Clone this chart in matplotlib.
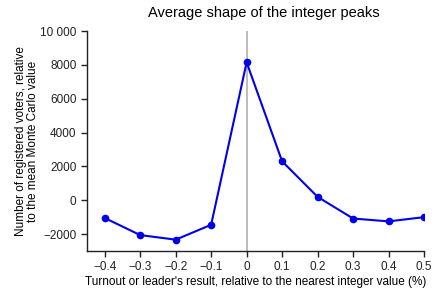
import matplotlib
matplotlib.use("Agg")
import matplotlib.pyplot as plt
from matplotlib.ticker import FuncFormatter

plt.rcParams['font.family'] = ['Liberation Sans', 'DejaVu Sans']

x_vals = [-0.4, -0.3, -0.2, -0.1, 0.0, 0.1, 0.2, 0.3, 0.4, 0.5]
y_vals = [-1050, -2060, -2330, -1450, 8150, 2300, 200, -1080, -1250, -1000]
x_ticks = [-0.4, -0.3, -0.2, -0.1, 0, 0.1, 0.2, 0.3, 0.4, 0.5]
y_ticks = [-2000, 0, 2000, 4000, 6000, 8000, 10000]

fig = plt.figure(figsize=(4.36, 2.92), dpi=100)
ax = fig.add_axes([0.1995, 0.1404, 0.7730, 0.7534])

ax.axvline(0, color='#b0b0b0', lw=1.2, zorder=1)
ax.plot(x_vals, y_vals, color='#0000ee', lw=1.5, marker='o', ms=4.5, zorder=3)

ax.set_xlim(-0.45, 0.5)
ax.set_ylim(-3000, 10000)
ax.set_xticks(x_ticks)
ax.set_yticks(y_ticks)

def fmt_x(v, pos):
    s = f"{v:.1f}".replace("-", "\u2212")
    if abs(v) < 1e-9:
        s = "0"
    return s

def fmt_y(v, pos):
    v = int(round(v))
    if abs(v) >= 10000:
        s = f"{abs(v):,}".replace(",", " ")
    else:
        s = str(abs(v))
    return ("\u2212" if v < 0 else "") + s

ax.xaxis.set_major_formatter(FuncFormatter(fmt_x))
ax.yaxis.set_major_formatter(FuncFormatter(fmt_y))

for side in ['top', 'right']:
    ax.spines[side].set_visible(False)
for side in ['left', 'bottom']:
    ax.spines[side].set_linewidth(1.0)
    ax.spines[side].set_color('#222222')
ax.spines['bottom'].set_bounds(-0.45, 0.5)

ax.tick_params(direction='out', length=4, width=1.0, labelsize=8.5, colors='#222222')

ax.set_title("Average shape of the integer peaks", fontsize=10.5, pad=10, x=0.525)
ax.set_xlabel("Turnout or leader's result, relative to the nearest integer value (%)", fontsize=8.5, labelpad=2)
ax.set_ylabel("Number of registered voters, relative\nto the mean Monte Carlo value", fontsize=8.5, labelpad=1, linespacing=1.0)

fig.savefig("out.png", dpi=100)
